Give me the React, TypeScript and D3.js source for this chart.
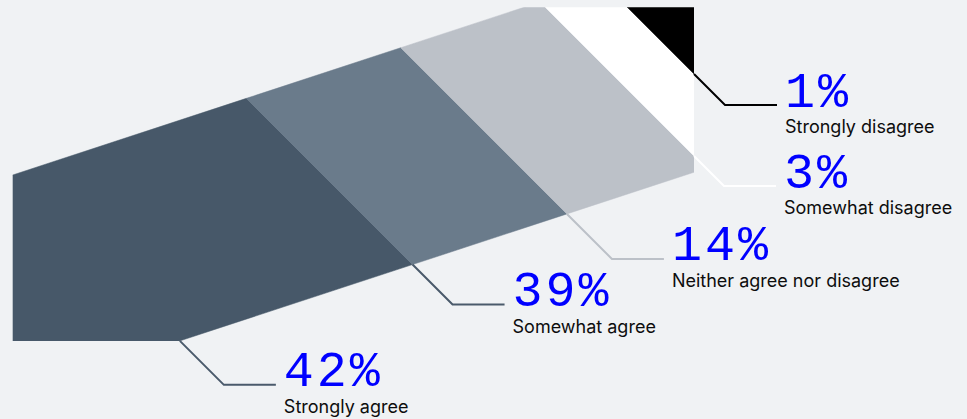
import React, { useEffect } from "react";
import * as d3 from "d3";

// ---- data ----
const categories = [
  "Strongly agree",
  "Somewhat agree",
  "Neither agree nor disagree",
  "Somewhat disagree",
  "Strongly disagree",
];
const values = [42, 39, 14, 3, 1];
const labels = ["42%", "39%", "14%", "3%", "1%"];

// ---- styles / layout ----
const fills = ["#475869", "#6a7b8b", "#bcc1c8", "#ffffff", "#000000"];
const lineColors = ["#4a5a6b", "#4a5a6b", "#bcc1c8", "#ffffff", "#000000"];
const leaderDrop = [44, 40, 45, 30, 31];

const W = 967;
const H = 419;
const BG = "#f0f2f4";
const SLOPE = 0.328; // band tilt
const TOP_C = 175 + SLOPE * 12.7; // top edge: y = TOP_C - SLOPE*x
const BOT_C = 340.5 + SLOPE * 181; // bottom edge: y = BOT_C - SLOPE*x
const CLIP = { x0: 12.7, x1: 694, y0: 7.3, y1: 341 };

export default function App() {
  useEffect(() => {
    document.body.style.margin = "0";
    document.body.style.background = BG;
  }, []);

  // cumulative boundaries
  const cum = [0];
  values.forEach((v) => cum.push(cum[cum.length - 1] + v));

  // maps cumulative percent -> diagonal offset (x - y) of the 45° divider
  const offset = d3
    .scaleLinear()
    .domain([0, 42, 81, 95, 98, 99])
    .range([-161, 148, 353, 538, 620, 760]);

  const onTop = (a: number) => {
    const x = (TOP_C + a) / (1 + SLOPE);
    return [x, x - a];
  };
  const onBot = (a: number) => {
    const x = (BOT_C + a) / (1 + SLOPE);
    return [x, x - a];
  };

  const line = d3.line();

  const segs = values.map((v, i) => {
    const a = i === 0 ? -1200 : offset(cum[i]);
    const b = offset(cum[i + 1]);
    const pts: [number, number][] = [onTop(a), onTop(b), onBot(b), onBot(a)] as any;
    return { d: line(pts) + "Z", fill: fills[i] };
  });

  const leaders = values.map((v, i) => {
    const a = offset(cum[i]);
    let [sx, sy] = onBot(a);
    if (sx > CLIP.x1) {
      sx = CLIP.x1;
      sy = sx - a;
    }
    if (sy > CLIP.y1) {
      sy = CLIP.y1;
      sx = sy + a;
    }
    const dd = leaderDrop[i];
    const ex = sx + dd;
    const ey = sy + dd;
    const hx = ex + 52;
    const pts: [number, number][] = [
      [sx, sy],
      [ex, ey],
      [hx, ey],
    ];
    return { d: line(pts), color: lineColors[i], tx: hx + 8, ty: ey };
  });

  return (
    <svg width={W} height={H} style={{ display: "block" }}>
      <rect width={W} height={H} fill={BG} />
      <defs>
        <clipPath id="bandClip">
          <rect
            x={CLIP.x0}
            y={CLIP.y0}
            width={CLIP.x1 - CLIP.x0}
            height={CLIP.y1 - CLIP.y0}
          />
        </clipPath>
      </defs>
      <g clipPath="url(#bandClip)">
        {segs.map((s, i) => (
          <path key={i} d={s.d} fill={s.fill} stroke={s.fill} strokeWidth={0.5} />
        ))}
      </g>
      {leaders.map((l, i) => (
        <g key={i}>
          <path d={l.d!} fill="none" stroke={l.color} strokeWidth={2} />
          <text
            x={l.tx}
            y={l.ty + 1.5}
            fill="#0000ff"
            fontFamily="'Liberation Mono', monospace"
            fontSize={50}
            letterSpacing={3}
          >
            {labels[i]}
          </text>
          <text
            x={l.tx}
            y={l.ty + 28}
            fill="#0d0d0d"
            fontFamily="Inter, 'Noto Sans', sans-serif"
            fontSize={18}
          >
            {categories[i]}
          </text>
        </g>
      ))}
    </svg>
  );
}
